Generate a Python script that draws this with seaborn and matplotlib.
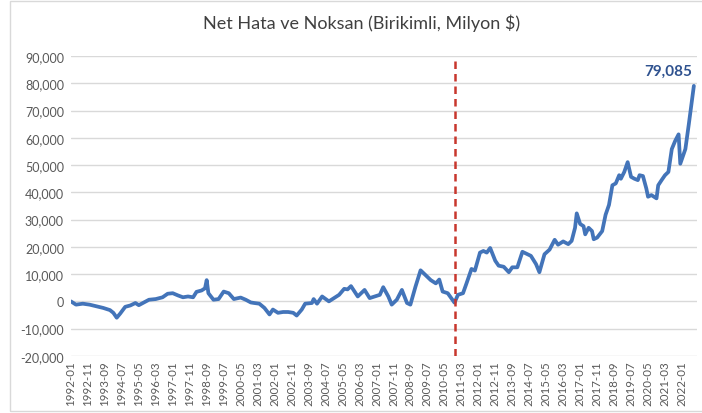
import pandas as pd
import matplotlib
matplotlib.use("Agg")
import matplotlib.pyplot as plt
import matplotlib.ticker as mticker
from matplotlib.patches import Rectangle
import seaborn as sns

dates = [
    "1992-01", "1992-04", "1992-08", "1992-12", "1993-04", "1993-08", "1993-12", "1994-02",
    "1994-04", "1994-06", "1994-09", "1994-12", "1995-03", "1995-05", "1995-08", "1995-11",
    "1996-03", "1996-07", "1996-10", "1997-01", "1997-04", "1997-07", "1997-10", "1998-01",
    "1998-03", "1998-06", "1998-08", "1998-09", "1998-10", "1999-01", "1999-04", "1999-07",
    "1999-10", "2000-01", "2000-05", "2000-08", "2000-11", "2001-01", "2001-04", "2001-07",
    "2001-10", "2001-12", "2002-03", "2002-06", "2002-09", "2002-12", "2003-02", "2003-05",
    "2003-07", "2003-11", "2003-12", "2004-02", "2004-05", "2004-09", "2004-12", "2005-03",
    "2005-06", "2005-08", "2005-10", "2006-02", "2006-06", "2006-09", "2006-12", "2007-03",
    "2007-05", "2007-08", "2007-10", "2008-01", "2008-04", "2008-07", "2008-09", "2008-12",
    "2009-03", "2009-06", "2009-09", "2009-12", "2010-02", "2010-04", "2010-07", "2010-11",
    "2011-01", "2011-04", "2011-06", "2011-09", "2011-11", "2012-02", "2012-04", "2012-06",
    "2012-08", "2012-11", "2013-01", "2013-04", "2013-07", "2013-09", "2013-12", "2014-03",
    "2014-06", "2014-08", "2014-11", "2015-01", "2015-04", "2015-07", "2015-10", "2015-12",
    "2016-03", "2016-06", "2016-08", "2016-10", "2016-11", "2017-01", "2017-03", "2017-04",
    "2017-06", "2017-08", "2017-09", "2017-11", "2018-02", "2018-04", "2018-06", "2018-08",
    "2018-10", "2018-12", "2019-01", "2019-03", "2019-05", "2019-07", "2019-09", "2019-11",
    "2019-12", "2020-02", "2020-04", "2020-05", "2020-07", "2020-10", "2020-11", "2021-01",
    "2021-03", "2021-05", "2021-07", "2021-09", "2021-11", "2021-12", "2022-02", "2022-03",
    "2022-05", "2022-08",
]
values = [
    0, -1200, -850, -1200, -1800, -2400, -3200, -4200,
    -6000, -4500, -2000, -1500, -600, -1400, -400, 600,
    850, 1500, 2800, 3000, 2200, 1500, 1800, 1500,
    3500, 4000, 4800, 7800, 3000, 600, 850, 3600,
    3000, 850, 1400, 600, -400, -600, -850, -2400,
    -4800, -3000, -4200, -3900, -3900, -4200, -5200, -3000,
    -850, -600, 850, -850, 1800, 0, 1200, 2400,
    4600, 4400, 5600, 1800, 4200, 1200, 1800, 2400,
    5200, 1800, -1200, 600, 4200, -600, -1200, 5400,
    11400, 9600, 7800, 6600, 8000, 3600, 3000, -500,
    2400, 3000, 6500, 11900, 11300, 17900, 18500, 17900,
    19600, 14900, 13100, 12700, 10700, 12500, 12500, 18200,
    17300, 16700, 13700, 10700, 17300, 19000, 22600, 20800,
    22000, 21000, 22200, 27000, 32300, 28400, 27600, 24600,
    27000, 25800, 22800, 23400, 25800, 31800, 35400, 42600,
    43300, 46300, 45000, 47500, 51100, 45700, 45000, 44500,
    46300, 46000, 41400, 38400, 39000, 37800, 42600, 44500,
    46300, 47500, 55900, 58900, 61300, 50500, 54100, 55900,
    64900, 79085,
]
marker_date = "2010-11"
title = "Net Hata ve Noksan (Birikimli, Milyon $)"

first_year = 1992
tick_step = 10  # Excel shows every 10th month
last_tick = "2022-01"


def month_index(s):
    y, m = s.split("-")
    return (int(y) - first_year) * 12 + int(m) - 1


df = pd.DataFrame({"date": dates, "value": values})
df["m"] = df["date"].map(month_index)

sns.set_style("white")
plt.rcParams["font.family"] = ["Lato", "DejaVu Sans"]

fig = plt.figure(figsize=(7.02, 4.14), dpi=100)
ax = fig.add_axes([0.101, 0.138, 0.892, 0.724])

ax.set_ylim(-20000, 90000)
ax.set_xlim(0, 368.9)
ax.yaxis.set_major_locator(mticker.MultipleLocator(10000))
ax.yaxis.set_major_formatter(mticker.FuncFormatter(lambda v, p: f"{v:,.0f}"))
ax.grid(axis="y", color="#d9d9d9", linewidth=1)
ax.set_axisbelow(True)
for s in ax.spines.values():
    s.set_visible(False)

sns.lineplot(data=df, x="m", y="value", ax=ax, color="#4374b9", linewidth=2.7)

ax.axvline(month_index(marker_date), color="#c8372d", linestyle=(0, (3, 2)), linewidth=1.8)

tick_pos = list(range(0, month_index(last_tick) + 1, tick_step))
tick_lab = [f"{first_year + p // 12}-{p % 12 + 1:02d}" for p in tick_pos]
ax.set_xticks(tick_pos)
ax.set_xticklabels(tick_lab, rotation=90, fontsize=8.3, color="#595959")
ax.tick_params(axis="y", labelsize=9, colors="#595959", length=0, pad=5)
ax.tick_params(axis="x", length=0, pad=3)
ax.set_xlabel("")
ax.set_ylabel("")

# end-of-series label, kept just inside the right edge
last = df.iloc[-1]
ax.annotate(f"{last['value']:,.0f}", (last["m"], last["value"]), xytext=(-1, 6),
            textcoords="offset points", ha="right", va="bottom",
            fontsize=11, fontweight="bold", color="#2f528f", annotation_clip=False)

fig.text(0.515, 0.945, title, ha="center", va="center", fontsize=13, color="#404040")

fig.patches.append(Rectangle((0.014, 0.005), 0.99, 0.99, transform=fig.transFigure,
                             fill=False, edgecolor="#d9d9d9", linewidth=1))

fig.savefig("out.png", dpi=100)
